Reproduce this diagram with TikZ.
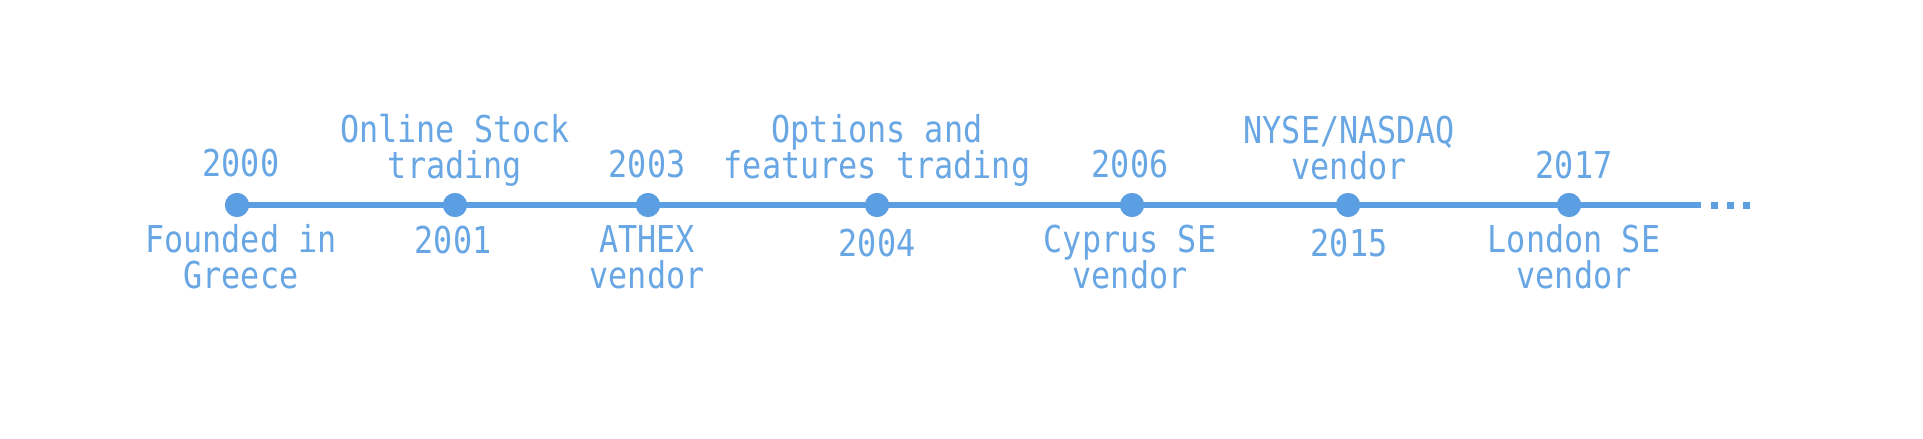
\documentclass[tikz,border=0pt]{standalone}
\usepackage{fontspec}
\newfontfamily\lblfont[FakeStretch=0.86]{DejaVu Sans Mono}
\definecolor{tlblue}{RGB}{91,159,226}
\definecolor{txblue}{RGB}{104,166,228}
\begin{document}
\begin{tikzpicture}[x=1pt,y=-1pt,
  lbl/.style={font=\lblfont\fontsize{37}{36}\selectfont, text=txblue, inner sep=0pt, align=center, anchor=base},
  evdot/.style={circle, fill=tlblue, minimum size=24pt, inner sep=0pt},
  tline/.style={draw=tlblue, line width=6.5pt}]
\useasboundingbox (0,0) rectangle (1923,439);
% dots
\node[evdot] (d1) at (237,205) {};
\node[evdot] (d2) at (455,205) {};
\node[evdot] (d3) at (648,205) {};
\node[evdot] (d4) at (877,205) {};
\node[evdot] (d5) at (1132,205) {};
\node[evdot] (d6) at (1348,205) {};
\node[evdot] (d7) at (1569,205) {};
\coordinate (lend) at (1701,205);
\coordinate (dstart) at (1710.5,205);
\coordinate (dend) at (1751,205);
\path[tline] (d1.center) -- (lend);
\path[draw=tlblue, line width=7pt, dash pattern=on 7pt off 9pt] (dstart) -- (dend);
\foreach \n in {d1,d2,d3,d4,d5,d6,d7} {\node[evdot] at (\n) {};}
% labels (base anchor = baseline of last line)
\node[lbl] (t1) at (241,176) {2000};
\node[lbl] (b1) at (241,288) {Founded in\\Greece};
\node[lbl] (t2) at (455,178) {Online Stock\\trading};
\node[lbl] (b2) at (453,253) {2001};
\node[lbl] (t3) at (647,177) {2003};
\node[lbl] (b3) at (647,288) {ATHEX\\vendor};
\node[lbl] (t4) at (877,178) {Options and\\features trading};
\node[lbl] (b4) at (877,256) {2004};
\node[lbl] (t5) at (1130,177) {2006};
\node[lbl] (b5) at (1130,288) {Cyprus SE\\vendor};
\node[lbl] (t6) at (1349,179) {NYSE/NASDAQ\\vendor};
\node[lbl] (b6) at (1349,256) {2015};
\node[lbl] (t7) at (1574,178) {2017};
\node[lbl] (b7) at (1574,288) {London SE\\vendor};
\end{tikzpicture}
\end{document}
